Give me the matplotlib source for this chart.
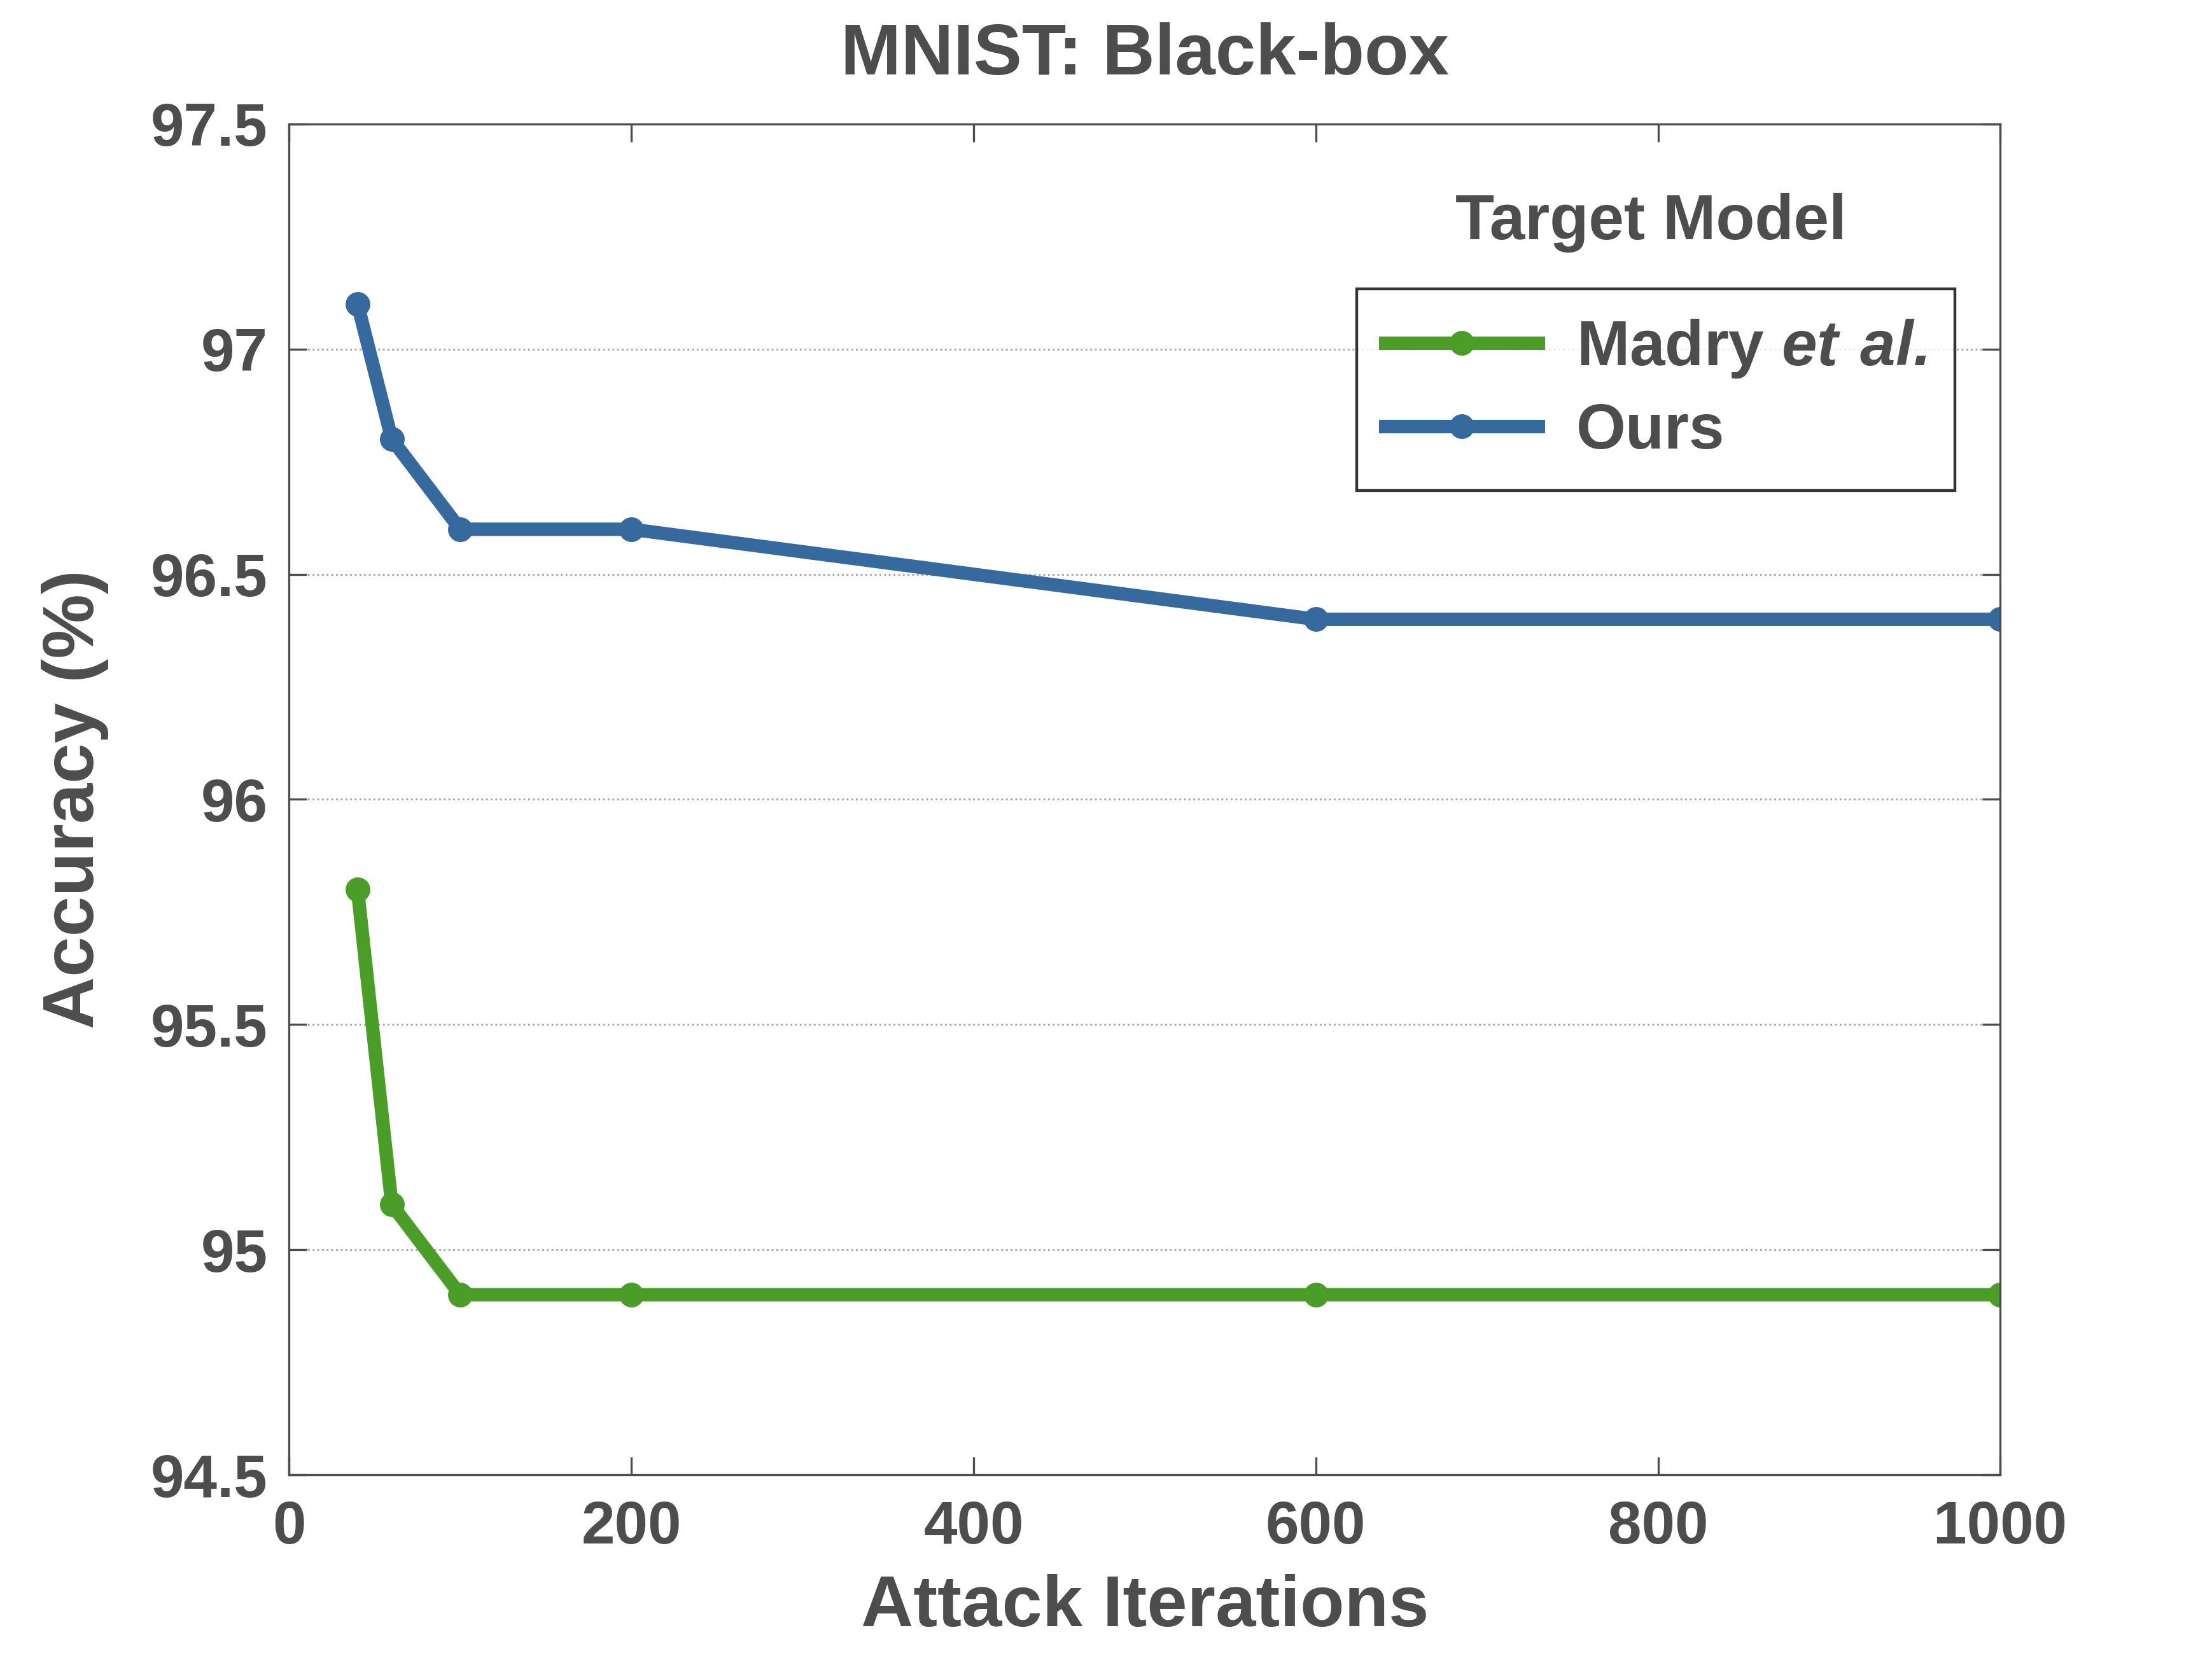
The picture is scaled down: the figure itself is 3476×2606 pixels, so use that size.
import matplotlib
matplotlib.use('Agg')
import matplotlib.pyplot as plt

# data
iterations = [40, 60, 100, 200, 600, 1000]
madry_acc = [95.8, 95.1, 94.9, 94.9, 94.9, 94.9]
ours_acc = [97.1, 96.8, 96.6, 96.6, 96.4, 96.4]
series_labels = ['Madry $\\mathbfit{et\\ al.}$', 'Ours']
yticks = [94.5, 95, 95.5, 96, 96.5, 97, 97.5]
ytick_labels = ['94.5', '95', '95.5', '96', '96.5', '97', '97.5']
xticks = [0, 200, 400, 600, 800, 1000]

txt = '#4d4d4d'
green = '#4a9e27'
blue = '#36699d'

plt.rcParams['font.family'] = ['Liberation Sans', 'DejaVu Sans']
plt.rcParams['font.weight'] = 'bold'
plt.rcParams['mathtext.fontset'] = 'custom'
plt.rcParams['mathtext.bfit'] = 'Liberation Sans:italic:bold'

fig = plt.figure(figsize=(17.38, 13.03), dpi=200)
ax = fig.add_axes([0.1307, 0.1105, 0.9043 - 0.1307, 0.9252 - 0.1105])

ax.plot(iterations, madry_acc, color=green, lw=7.6, marker='o', ms=13,
        label=series_labels[0], solid_joinstyle='round')
ax.plot(iterations, ours_acc, color=blue, lw=7.6, marker='o', ms=13,
        label=series_labels[1], solid_joinstyle='round')

ax.set_xlim(0, 1000)
ax.set_ylim(94.5, 97.5)
ax.set_xticks(xticks)
ax.set_yticks(yticks)
ax.set_yticklabels(ytick_labels)
ax.yaxis.grid(True, linestyle=':', color='#a0a0a0', lw=1.0)
ax.set_axisbelow(True)

ax.tick_params(direction='in', length=10, width=1.2, colors=txt,
               labelsize=34, top=True, right=True)
ax.tick_params(axis='y', pad=12)
ax.tick_params(axis='x', pad=14)
for lab in ax.get_xticklabels() + ax.get_yticklabels():
    lab.set_fontweight('bold')
for sp in ax.spines.values():
    sp.set_color(txt)
    sp.set_linewidth(1.2)

ax.set_title('MNIST: Black-box', fontsize=41, fontweight='bold', color=txt, pad=28)
ax.set_xlabel('Attack Iterations', fontsize=41, fontweight='bold', color=txt, labelpad=10)
ax.set_ylabel('Accuracy (%)', fontsize=41, fontweight='bold', color=txt, labelpad=24)

ax.text(0.796, 0.927, 'Target Model', transform=ax.transAxes, ha='center', va='center',
        fontsize=36, fontweight='bold', color=txt)

leg = ax.legend(loc='upper right', bbox_to_anchor=(0.9736, 0.878), fontsize=36,
                handlelength=2.4, handletextpad=0.6, labelspacing=0.35,
                borderpad=0.45, borderaxespad=0, frameon=True, fancybox=False,
                edgecolor='black')
leg.get_frame().set_linewidth(1.6)
for t in leg.get_texts():
    t.set_color(txt)
    t.set_fontweight('bold')

fig.savefig('out.png', dpi=200, facecolor='white')
